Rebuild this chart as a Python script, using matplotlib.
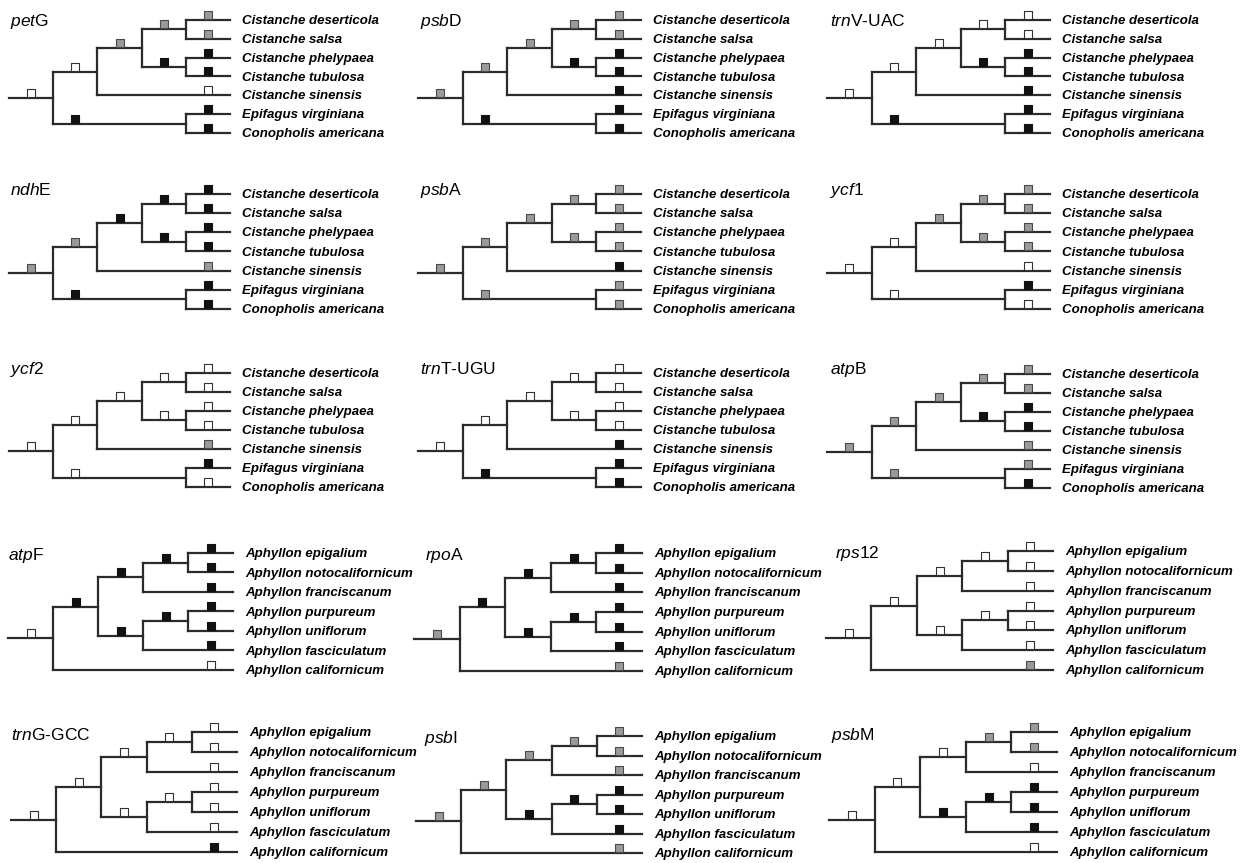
import matplotlib
matplotlib.use("Agg")
import matplotlib.pyplot as plt
from matplotlib.transforms import offset_copy

plt.rcParams['font.family'] = ['Liberation Sans', 'DejaVu Sans']
plt.rcParams['mathtext.fontset'] = 'custom'
plt.rcParams['mathtext.it'] = 'Liberation Sans:italic'
plt.rcParams['mathtext.rm'] = 'Liberation Sans'

# taxa (tip order top to bottom) and tree topologies as nested tuples of tip indices
cistanche_taxa = ['Cistanche deserticola', 'Cistanche salsa', 'Cistanche phelypaea',
                  'Cistanche tubulosa', 'Cistanche sinensis', 'Epifagus virginiana',
                  'Conopholis americana']
aphyllon_taxa = ['Aphyllon epigalium', 'Aphyllon notocalifornicum', 'Aphyllon franciscanum',
                 'Aphyllon purpureum', 'Aphyllon uniflorum', 'Aphyllon fasciculatum',
                 'Aphyllon californicum']
cistanche_tree = ((((0, 1), (2, 3)), 4), (5, 6))
aphyllon_tree = ((((0, 1), 2), ((3, 4), 5)), 6)

# gene names: italic part + upright part
gene_italic = ['pet', 'psb', 'trn', 'ndh', 'psb', 'ycf', 'ycf', 'trn', 'atp',
               'atp', 'rpo', 'rps', 'trn', 'psb', 'psb']
gene_suffix = ['G', 'D', 'V-UAC', 'E', 'A', '1', '2', 'T-UGU', 'B',
               'F', 'A', '12', 'G-GCC', 'I', 'M']
gene_group = ['C'] * 9 + ['A'] * 6

# branch states in preorder (root stem first): W = white, G = grey, B = black
states = [
    'WWGGGGBBBWBBB',  # petG
    'GGGGGGBBBBBBB',  # psbD
    'WWWWWWBBBBBBB',  # trnV-UAC
    'GGBBBBBBBGBBB',  # ndhE
    'GGGGGGGGGBGGG',  # psbA
    'WWGGGGGGGWWBW',  # ycf1
    'WWWWWWWWWGWBW',  # ycf2
    'WWWWWWWWWBBBB',  # trnT-UGU
    'GGGGGGBBBGGGB',  # atpB
    'WBBBBBBBBBBBW',  # atpF
    'GBBBBBBBBBBBG',  # rpoA
    'WWWWWWWWWWWWG',  # rps12
    'WWWWWWWWWWWWB',  # trnG-GCC
    'GGGGGGGBBBBBG',  # psbI
    'WWWGGGWBBBBBW',  # psbM
]

# panel placement in pixels: stem start x, tip x, first tip y, last tip y, title x, title baseline
panels = [
    (9, 230, 20, 133, 10, 26), (418, 641, 20, 133, 420, 26), (827, 1050, 20, 133, 830, 26),
    (9, 230, 194, 309, 10, 195), (418, 641, 194, 309, 420, 195), (827, 1050, 194, 309, 830, 195),
    (9, 230, 373, 487, 10, 374), (418, 641, 373, 487, 420, 374), (827, 1050, 374, 488, 830, 374),
    (8, 233, 553, 670, 8, 560), (414, 642, 553, 671, 425, 560), (826, 1053, 551, 670, 835, 558),
    (11, 237, 732, 852, 11, 740), (416, 642, 736, 853, 424, 743), (829, 1057, 732, 852, 831, 740),
]

fills = {'W': '#ffffff', 'G': '#9a9a9a', 'B': '#111111'}
edges = {'W': '#333333', 'G': '#4a4a4a', 'B': '#111111'}
line_kw = dict(color='#2b2b2b', lw=1.6, solid_capstyle='projecting', zorder=1, clip_on=False)

W, H = 1243, 863
fig = plt.figure(figsize=(W / 100, H / 100), dpi=100)


def height(node):
    if isinstance(node, int):
        return 0
    return 1 + max(height(c) for c in node)


def draw_node(ax, node, parent_level, codes, trans):
    code = codes.pop(0)
    if isinstance(node, int):
        level, y = 4, node
        mark_x = level - 0.5
    else:
        level = 4 - height(node)
        ys = [draw_node(ax, child, level, codes, trans) for child in node]
        y = (ys[0] + ys[-1]) / 2
        ax.plot([level, level], [min(ys), max(ys)], **line_kw)
        mark_x = parent_level + 0.5
    ax.plot([parent_level, level], [y, y], **line_kw)
    ax.scatter([mark_x], [y], marker='s', s=27, transform=trans, facecolor=fills[code],
               edgecolor=edges[code], linewidths=0.8, zorder=3, clip_on=False)
    return y


for i, (x0, xt, y0, y6, tx, tb) in enumerate(panels):
    ax = fig.add_axes([x0 / W, 1 - y6 / H, (xt - x0) / W, (y6 - y0) / H])
    ax.set_xlim(-1, 4)
    ax.set_ylim(6, 0)
    ax.axis('off')
    if gene_group[i] == 'C':
        tree, taxa = cistanche_tree, cistanche_taxa
    else:
        tree, taxa = aphyllon_tree, aphyllon_taxa
    trans = offset_copy(ax.transData, fig=fig, y=3.6, units='points')
    draw_node(ax, tree, -1, list(states[i]), trans)
    for j, name in enumerate(taxa):
        ax.annotate(name, xy=(4, j), xytext=(8.5, -0.8), textcoords='offset points',
                    va='center', ha='left', fontsize=9.5, fontweight='bold',
                    fontstyle='italic', annotation_clip=False)
    fig.text(tx / W, 1 - tb / H, rf'$\mathit{{{gene_italic[i]}}}${gene_suffix[i]}',
             fontsize=12.5, va='baseline', ha='left')

fig.savefig('out.png', dpi=100, facecolor='white')
